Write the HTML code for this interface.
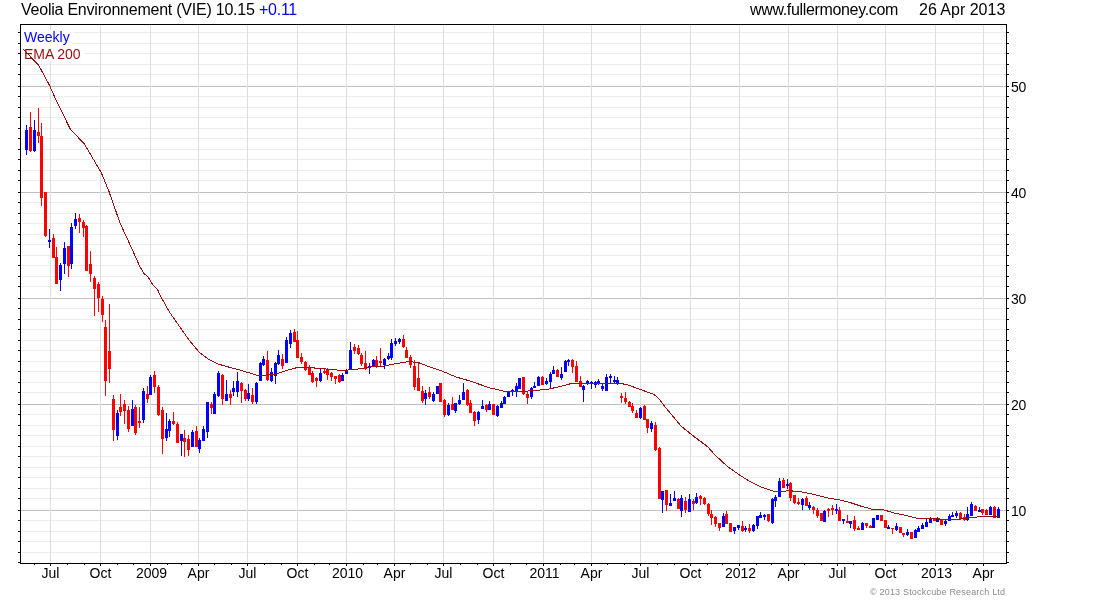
<!DOCTYPE html>
<html><head><meta charset="utf-8"><title>Veolia Environnement (VIE)</title><style>
html,body{margin:0;padding:0;background:#fff}
body{width:1100px;height:600px;position:relative;overflow:hidden;font-family:"Liberation Sans",sans-serif;color:#000}
.t{position:absolute;white-space:nowrap;line-height:1}
.ax{font-size:14px}
.xl{font-size:14px;transform:translateX(-50%)}
</style></head><body>
<svg width="1100" height="600" viewBox="0 0 1100 600" style="position:absolute;left:0;top:0">
<rect x="0" y="0" width="1100" height="600" fill="#fff"/>
<g shape-rendering="crispEdges"><rect x="21" y="552" width="985" height="1" fill="#ececec"/><rect x="21" y="541" width="985" height="1" fill="#ececec"/><rect x="21" y="531" width="985" height="1" fill="#ececec"/><rect x="21" y="520" width="985" height="1" fill="#ececec"/><rect x="21" y="510" width="985" height="1" fill="#c0c0c0"/><rect x="21" y="498" width="985" height="1" fill="#ececec"/><rect x="21" y="488" width="985" height="1" fill="#ececec"/><rect x="21" y="477" width="985" height="1" fill="#ececec"/><rect x="21" y="467" width="985" height="1" fill="#ececec"/><rect x="21" y="456" width="985" height="1" fill="#ececec"/><rect x="21" y="446" width="985" height="1" fill="#ececec"/><rect x="21" y="435" width="985" height="1" fill="#ececec"/><rect x="21" y="425" width="985" height="1" fill="#ececec"/><rect x="21" y="414" width="985" height="1" fill="#ececec"/><rect x="21" y="404" width="985" height="1" fill="#c0c0c0"/><rect x="21" y="392" width="985" height="1" fill="#ececec"/><rect x="21" y="382" width="985" height="1" fill="#ececec"/><rect x="21" y="371" width="985" height="1" fill="#ececec"/><rect x="21" y="361" width="985" height="1" fill="#ececec"/><rect x="21" y="350" width="985" height="1" fill="#ececec"/><rect x="21" y="340" width="985" height="1" fill="#ececec"/><rect x="21" y="329" width="985" height="1" fill="#ececec"/><rect x="21" y="319" width="985" height="1" fill="#ececec"/><rect x="21" y="308" width="985" height="1" fill="#ececec"/><rect x="21" y="298" width="985" height="1" fill="#c0c0c0"/><rect x="21" y="286" width="985" height="1" fill="#ececec"/><rect x="21" y="276" width="985" height="1" fill="#ececec"/><rect x="21" y="265" width="985" height="1" fill="#ececec"/><rect x="21" y="255" width="985" height="1" fill="#ececec"/><rect x="21" y="244" width="985" height="1" fill="#ececec"/><rect x="21" y="234" width="985" height="1" fill="#ececec"/><rect x="21" y="223" width="985" height="1" fill="#ececec"/><rect x="21" y="213" width="985" height="1" fill="#ececec"/><rect x="21" y="202" width="985" height="1" fill="#ececec"/><rect x="21" y="192" width="985" height="1" fill="#c0c0c0"/><rect x="21" y="180" width="985" height="1" fill="#ececec"/><rect x="21" y="170" width="985" height="1" fill="#ececec"/><rect x="21" y="159" width="985" height="1" fill="#ececec"/><rect x="21" y="149" width="985" height="1" fill="#ececec"/><rect x="21" y="138" width="985" height="1" fill="#ececec"/><rect x="21" y="128" width="985" height="1" fill="#ececec"/><rect x="21" y="117" width="985" height="1" fill="#ececec"/><rect x="21" y="107" width="985" height="1" fill="#ececec"/><rect x="21" y="96" width="985" height="1" fill="#ececec"/><rect x="21" y="86" width="985" height="1" fill="#c0c0c0"/><rect x="21" y="74" width="985" height="1" fill="#ececec"/><rect x="21" y="64" width="985" height="1" fill="#ececec"/><rect x="21" y="53" width="985" height="1" fill="#ececec"/><rect x="21" y="43" width="985" height="1" fill="#ececec"/><rect x="21" y="32" width="985" height="1" fill="#ececec"/></g>
<g shape-rendering="crispEdges"><rect x="34" y="564" width="1" height="1" fill="#000"/><rect x="50" y="25" width="1" height="538" fill="#dedede"/><rect x="50" y="564" width="1" height="2" fill="#000"/><rect x="67" y="564" width="1" height="1" fill="#000"/><rect x="84" y="564" width="1" height="1" fill="#000"/><rect x="100" y="25" width="1" height="538" fill="#dedede"/><rect x="100" y="564" width="1" height="2" fill="#000"/><rect x="117" y="564" width="1" height="1" fill="#000"/><rect x="133" y="564" width="1" height="1" fill="#000"/><rect x="150" y="25" width="1" height="538" fill="#dedede"/><rect x="150" y="564" width="1" height="2" fill="#000"/><rect x="167" y="564" width="1" height="1" fill="#000"/><rect x="181" y="564" width="1" height="1" fill="#000"/><rect x="198" y="25" width="1" height="538" fill="#dedede"/><rect x="198" y="564" width="1" height="2" fill="#000"/><rect x="214" y="564" width="1" height="1" fill="#000"/><rect x="231" y="564" width="1" height="1" fill="#000"/><rect x="247" y="25" width="1" height="538" fill="#dedede"/><rect x="247" y="564" width="1" height="2" fill="#000"/><rect x="264" y="564" width="1" height="1" fill="#000"/><rect x="281" y="564" width="1" height="1" fill="#000"/><rect x="297" y="25" width="1" height="538" fill="#dedede"/><rect x="297" y="564" width="1" height="2" fill="#000"/><rect x="314" y="564" width="1" height="1" fill="#000"/><rect x="329" y="564" width="1" height="1" fill="#000"/><rect x="346" y="25" width="1" height="538" fill="#dedede"/><rect x="346" y="564" width="1" height="2" fill="#000"/><rect x="363" y="564" width="1" height="1" fill="#000"/><rect x="377" y="564" width="1" height="1" fill="#000"/><rect x="394" y="25" width="1" height="538" fill="#dedede"/><rect x="394" y="564" width="1" height="2" fill="#000"/><rect x="410" y="564" width="1" height="1" fill="#000"/><rect x="427" y="564" width="1" height="1" fill="#000"/><rect x="443" y="25" width="1" height="538" fill="#dedede"/><rect x="443" y="564" width="1" height="2" fill="#000"/><rect x="460" y="564" width="1" height="1" fill="#000"/><rect x="477" y="564" width="1" height="1" fill="#000"/><rect x="493" y="25" width="1" height="538" fill="#dedede"/><rect x="493" y="564" width="1" height="2" fill="#000"/><rect x="510" y="564" width="1" height="1" fill="#000"/><rect x="526" y="564" width="1" height="1" fill="#000"/><rect x="543" y="25" width="1" height="538" fill="#dedede"/><rect x="543" y="564" width="1" height="2" fill="#000"/><rect x="560" y="564" width="1" height="1" fill="#000"/><rect x="574" y="564" width="1" height="1" fill="#000"/><rect x="591" y="25" width="1" height="538" fill="#dedede"/><rect x="591" y="564" width="1" height="2" fill="#000"/><rect x="607" y="564" width="1" height="1" fill="#000"/><rect x="624" y="564" width="1" height="1" fill="#000"/><rect x="640" y="25" width="1" height="538" fill="#dedede"/><rect x="640" y="564" width="1" height="2" fill="#000"/><rect x="657" y="564" width="1" height="1" fill="#000"/><rect x="674" y="564" width="1" height="1" fill="#000"/><rect x="690" y="25" width="1" height="538" fill="#dedede"/><rect x="690" y="564" width="1" height="2" fill="#000"/><rect x="707" y="564" width="1" height="1" fill="#000"/><rect x="722" y="564" width="1" height="1" fill="#000"/><rect x="739" y="25" width="1" height="538" fill="#dedede"/><rect x="739" y="564" width="1" height="2" fill="#000"/><rect x="756" y="564" width="1" height="1" fill="#000"/><rect x="771" y="564" width="1" height="1" fill="#000"/><rect x="788" y="25" width="1" height="538" fill="#dedede"/><rect x="788" y="564" width="1" height="2" fill="#000"/><rect x="804" y="564" width="1" height="1" fill="#000"/><rect x="821" y="564" width="1" height="1" fill="#000"/><rect x="837" y="25" width="1" height="538" fill="#dedede"/><rect x="837" y="564" width="1" height="2" fill="#000"/><rect x="853" y="564" width="1" height="1" fill="#000"/><rect x="869" y="564" width="1" height="1" fill="#000"/><rect x="885" y="25" width="1" height="538" fill="#dedede"/><rect x="885" y="564" width="1" height="2" fill="#000"/><rect x="902" y="564" width="1" height="1" fill="#000"/><rect x="918" y="564" width="1" height="1" fill="#000"/><rect x="935" y="25" width="1" height="538" fill="#dedede"/><rect x="935" y="564" width="1" height="2" fill="#000"/><rect x="952" y="564" width="1" height="1" fill="#000"/><rect x="966" y="564" width="1" height="1" fill="#000"/><rect x="983" y="25" width="1" height="538" fill="#dedede"/><rect x="983" y="564" width="1" height="2" fill="#000"/></g>
<g shape-rendering="crispEdges"><rect x="21" y="30" width="52" height="15" fill="#fff"/><rect x="21" y="46" width="63" height="15" fill="#fff"/></g>
<g shape-rendering="crispEdges"><rect x="26" y="125" width="1" height="30" fill="#0000ff"/><rect x="25" y="130" width="3" height="20" fill="#0000ff"/><rect x="30" y="112" width="1" height="40" fill="#ff0000"/><rect x="29" y="127" width="3" height="24" fill="#ff0000"/><rect x="34" y="120" width="1" height="32" fill="#0000ff"/><rect x="33" y="130" width="3" height="21" fill="#0000ff"/><rect x="38" y="108" width="1" height="35" fill="#ff0000"/><rect x="37" y="132" width="3" height="4" fill="#ff0000"/><rect x="41" y="123" width="1" height="83" fill="#ff0000"/><rect x="40" y="136" width="3" height="62" fill="#ff0000"/><rect x="45" y="192" width="1" height="45" fill="#ff0000"/><rect x="44" y="192" width="3" height="44" fill="#ff0000"/><rect x="49" y="229" width="1" height="19" fill="#0000ff"/><rect x="48" y="240" width="3" height="2" fill="#0000ff"/><rect x="53" y="234" width="1" height="24" fill="#ff0000"/><rect x="52" y="238" width="3" height="20" fill="#ff0000"/><rect x="56" y="247" width="1" height="37" fill="#ff0000"/><rect x="55" y="257" width="3" height="27" fill="#ff0000"/><rect x="60" y="263" width="1" height="28" fill="#0000ff"/><rect x="59" y="265" width="3" height="15" fill="#0000ff"/><rect x="64" y="242" width="1" height="32" fill="#0000ff"/><rect x="63" y="248" width="3" height="16" fill="#0000ff"/><rect x="68" y="246" width="1" height="31" fill="#ff0000"/><rect x="67" y="246" width="3" height="20" fill="#ff0000"/><rect x="71" y="223" width="1" height="46" fill="#0000ff"/><rect x="70" y="227" width="3" height="37" fill="#0000ff"/><rect x="75" y="213" width="1" height="16" fill="#0000ff"/><rect x="74" y="219" width="3" height="7" fill="#0000ff"/><rect x="79" y="214" width="1" height="19" fill="#ff0000"/><rect x="78" y="218" width="3" height="4" fill="#ff0000"/><rect x="83" y="220" width="1" height="17" fill="#ff0000"/><rect x="82" y="222" width="3" height="6" fill="#ff0000"/><rect x="86" y="225" width="1" height="46" fill="#ff0000"/><rect x="85" y="226" width="3" height="45" fill="#ff0000"/><rect x="90" y="251" width="1" height="31" fill="#ff0000"/><rect x="89" y="264" width="3" height="10" fill="#ff0000"/><rect x="94" y="276" width="1" height="40" fill="#ff0000"/><rect x="93" y="278" width="3" height="11" fill="#ff0000"/><rect x="98" y="282" width="1" height="30" fill="#ff0000"/><rect x="97" y="284" width="3" height="14" fill="#ff0000"/><rect x="102" y="296" width="1" height="26" fill="#ff0000"/><rect x="101" y="299" width="3" height="16" fill="#ff0000"/><rect x="105" y="320" width="1" height="76" fill="#ff0000"/><rect x="104" y="327" width="3" height="54" fill="#ff0000"/><rect x="109" y="304" width="1" height="79" fill="#ff0000"/><rect x="108" y="351" width="3" height="18" fill="#ff0000"/><rect x="113" y="395" width="1" height="46" fill="#ff0000"/><rect x="112" y="399" width="3" height="31" fill="#ff0000"/><rect x="117" y="410" width="1" height="30" fill="#0000ff"/><rect x="116" y="413" width="3" height="23" fill="#0000ff"/><rect x="120" y="394" width="1" height="22" fill="#ff0000"/><rect x="119" y="407" width="3" height="5" fill="#ff0000"/><rect x="124" y="400" width="1" height="24" fill="#ff0000"/><rect x="123" y="404" width="3" height="7" fill="#ff0000"/><rect x="128" y="406" width="1" height="26" fill="#ff0000"/><rect x="127" y="410" width="3" height="19" fill="#ff0000"/><rect x="132" y="400" width="1" height="26" fill="#0000ff"/><rect x="131" y="409" width="3" height="17" fill="#0000ff"/><rect x="135" y="405" width="1" height="30" fill="#ff0000"/><rect x="134" y="407" width="3" height="26" fill="#ff0000"/><rect x="139" y="407" width="1" height="21" fill="#ff0000"/><rect x="138" y="421" width="3" height="2" fill="#ff0000"/><rect x="143" y="388" width="1" height="35" fill="#0000ff"/><rect x="142" y="391" width="3" height="29" fill="#0000ff"/><rect x="147" y="386" width="1" height="17" fill="#ff0000"/><rect x="146" y="394" width="3" height="5" fill="#ff0000"/><rect x="150" y="375" width="1" height="20" fill="#0000ff"/><rect x="149" y="377" width="3" height="18" fill="#0000ff"/><rect x="154" y="371" width="1" height="22" fill="#ff0000"/><rect x="153" y="375" width="3" height="12" fill="#ff0000"/><rect x="158" y="385" width="1" height="31" fill="#ff0000"/><rect x="157" y="387" width="3" height="28" fill="#ff0000"/><rect x="162" y="407" width="1" height="47" fill="#ff0000"/><rect x="161" y="410" width="3" height="29" fill="#ff0000"/><rect x="166" y="413" width="1" height="28" fill="#0000ff"/><rect x="165" y="429" width="3" height="9" fill="#0000ff"/><rect x="169" y="419" width="1" height="18" fill="#0000ff"/><rect x="168" y="421" width="3" height="10" fill="#0000ff"/><rect x="173" y="412" width="1" height="13" fill="#ff0000"/><rect x="172" y="421" width="3" height="3" fill="#ff0000"/><rect x="177" y="422" width="1" height="21" fill="#ff0000"/><rect x="176" y="424" width="3" height="19" fill="#ff0000"/><rect x="181" y="434" width="1" height="22" fill="#0000ff"/><rect x="180" y="434" width="3" height="7" fill="#0000ff"/><rect x="184" y="430" width="1" height="27" fill="#ff0000"/><rect x="183" y="438" width="3" height="4" fill="#ff0000"/><rect x="188" y="435" width="1" height="21" fill="#ff0000"/><rect x="187" y="439" width="3" height="11" fill="#ff0000"/><rect x="192" y="430" width="1" height="17" fill="#0000ff"/><rect x="191" y="432" width="3" height="15" fill="#0000ff"/><rect x="196" y="426" width="1" height="21" fill="#ff0000"/><rect x="195" y="431" width="3" height="16" fill="#ff0000"/><rect x="199" y="438" width="1" height="15" fill="#0000ff"/><rect x="198" y="440" width="3" height="9" fill="#0000ff"/><rect x="203" y="426" width="1" height="15" fill="#0000ff"/><rect x="202" y="429" width="3" height="12" fill="#0000ff"/><rect x="207" y="402" width="1" height="36" fill="#0000ff"/><rect x="206" y="402" width="3" height="30" fill="#0000ff"/><rect x="211" y="402" width="1" height="12" fill="#ff0000"/><rect x="210" y="404" width="3" height="4" fill="#ff0000"/><rect x="214" y="392" width="1" height="22" fill="#0000ff"/><rect x="213" y="394" width="3" height="20" fill="#0000ff"/><rect x="218" y="371" width="1" height="26" fill="#0000ff"/><rect x="217" y="373" width="3" height="23" fill="#0000ff"/><rect x="222" y="374" width="1" height="31" fill="#ff0000"/><rect x="221" y="375" width="3" height="24" fill="#ff0000"/><rect x="226" y="380" width="1" height="21" fill="#0000ff"/><rect x="225" y="394" width="3" height="7" fill="#0000ff"/><rect x="230" y="390" width="1" height="15" fill="#ff0000"/><rect x="229" y="394" width="3" height="4" fill="#ff0000"/><rect x="233" y="381" width="1" height="15" fill="#0000ff"/><rect x="232" y="388" width="3" height="4" fill="#0000ff"/><rect x="237" y="372" width="1" height="25" fill="#0000ff"/><rect x="236" y="381" width="3" height="11" fill="#0000ff"/><rect x="241" y="382" width="1" height="21" fill="#ff0000"/><rect x="240" y="383" width="3" height="8" fill="#ff0000"/><rect x="245" y="389" width="1" height="12" fill="#ff0000"/><rect x="244" y="390" width="3" height="9" fill="#ff0000"/><rect x="248" y="384" width="1" height="17" fill="#0000ff"/><rect x="247" y="393" width="3" height="6" fill="#0000ff"/><rect x="252" y="388" width="1" height="16" fill="#ff0000"/><rect x="251" y="395" width="3" height="7" fill="#ff0000"/><rect x="256" y="382" width="1" height="22" fill="#0000ff"/><rect x="255" y="383" width="3" height="19" fill="#0000ff"/><rect x="260" y="362" width="1" height="19" fill="#0000ff"/><rect x="259" y="363" width="3" height="18" fill="#0000ff"/><rect x="263" y="356" width="1" height="10" fill="#0000ff"/><rect x="262" y="359" width="3" height="6" fill="#0000ff"/><rect x="267" y="351" width="1" height="30" fill="#ff0000"/><rect x="266" y="360" width="3" height="20" fill="#ff0000"/><rect x="271" y="368" width="1" height="14" fill="#0000ff"/><rect x="270" y="372" width="3" height="9" fill="#0000ff"/><rect x="275" y="362" width="1" height="22" fill="#0000ff"/><rect x="274" y="363" width="3" height="13" fill="#0000ff"/><rect x="278" y="350" width="1" height="15" fill="#0000ff"/><rect x="277" y="355" width="3" height="9" fill="#0000ff"/><rect x="282" y="354" width="1" height="15" fill="#ff0000"/><rect x="281" y="359" width="3" height="7" fill="#ff0000"/><rect x="286" y="337" width="1" height="26" fill="#0000ff"/><rect x="285" y="340" width="3" height="23" fill="#0000ff"/><rect x="290" y="330" width="1" height="18" fill="#0000ff"/><rect x="289" y="333" width="3" height="11" fill="#0000ff"/><rect x="294" y="329" width="1" height="13" fill="#ff0000"/><rect x="293" y="332" width="3" height="10" fill="#ff0000"/><rect x="297" y="331" width="1" height="27" fill="#ff0000"/><rect x="296" y="340" width="3" height="18" fill="#ff0000"/><rect x="301" y="353" width="1" height="11" fill="#ff0000"/><rect x="300" y="357" width="3" height="5" fill="#ff0000"/><rect x="305" y="361" width="1" height="10" fill="#ff0000"/><rect x="304" y="362" width="3" height="8" fill="#ff0000"/><rect x="309" y="365" width="1" height="10" fill="#ff0000"/><rect x="308" y="368" width="3" height="7" fill="#ff0000"/><rect x="312" y="371" width="1" height="12" fill="#ff0000"/><rect x="311" y="373" width="3" height="9" fill="#ff0000"/><rect x="316" y="377" width="1" height="10" fill="#ff0000"/><rect x="315" y="378" width="3" height="3" fill="#ff0000"/><rect x="320" y="369" width="1" height="13" fill="#0000ff"/><rect x="319" y="373" width="3" height="8" fill="#0000ff"/><rect x="324" y="368" width="1" height="6" fill="#ff0000"/><rect x="323" y="371" width="3" height="2" fill="#ff0000"/><rect x="327" y="368" width="1" height="12" fill="#ff0000"/><rect x="326" y="370" width="3" height="5" fill="#ff0000"/><rect x="331" y="372" width="1" height="9" fill="#ff0000"/><rect x="330" y="373" width="3" height="4" fill="#ff0000"/><rect x="335" y="376" width="1" height="8" fill="#ff0000"/><rect x="334" y="376" width="3" height="3" fill="#ff0000"/><rect x="339" y="374" width="1" height="9" fill="#ff0000"/><rect x="338" y="375" width="3" height="7" fill="#ff0000"/><rect x="342" y="373" width="1" height="8" fill="#0000ff"/><rect x="341" y="375" width="3" height="6" fill="#0000ff"/><rect x="346" y="369" width="1" height="5" fill="#0000ff"/><rect x="345" y="371" width="3" height="3" fill="#0000ff"/><rect x="350" y="342" width="1" height="28" fill="#0000ff"/><rect x="349" y="350" width="3" height="20" fill="#0000ff"/><rect x="354" y="344" width="1" height="10" fill="#ff0000"/><rect x="353" y="347" width="3" height="4" fill="#ff0000"/><rect x="358" y="345" width="1" height="10" fill="#ff0000"/><rect x="357" y="348" width="3" height="6" fill="#ff0000"/><rect x="361" y="353" width="1" height="13" fill="#ff0000"/><rect x="360" y="355" width="3" height="9" fill="#ff0000"/><rect x="365" y="351" width="1" height="19" fill="#ff0000"/><rect x="364" y="363" width="3" height="6" fill="#ff0000"/><rect x="369" y="363" width="1" height="11" fill="#0000ff"/><rect x="368" y="366" width="3" height="2" fill="#0000ff"/><rect x="373" y="359" width="1" height="8" fill="#0000ff"/><rect x="372" y="360" width="3" height="6" fill="#0000ff"/><rect x="376" y="356" width="1" height="12" fill="#ff0000"/><rect x="375" y="360" width="3" height="6" fill="#ff0000"/><rect x="380" y="348" width="1" height="19" fill="#ff0000"/><rect x="379" y="361" width="3" height="2" fill="#ff0000"/><rect x="384" y="358" width="1" height="11" fill="#0000ff"/><rect x="383" y="359" width="3" height="6" fill="#0000ff"/><rect x="388" y="353" width="1" height="7" fill="#0000ff"/><rect x="387" y="356" width="3" height="3" fill="#0000ff"/><rect x="391" y="339" width="1" height="21" fill="#0000ff"/><rect x="390" y="343" width="3" height="15" fill="#0000ff"/><rect x="395" y="338" width="1" height="8" fill="#0000ff"/><rect x="394" y="341" width="3" height="3" fill="#0000ff"/><rect x="399" y="338" width="1" height="6" fill="#0000ff"/><rect x="398" y="339" width="3" height="3" fill="#0000ff"/><rect x="403" y="335" width="1" height="13" fill="#ff0000"/><rect x="402" y="339" width="3" height="8" fill="#ff0000"/><rect x="406" y="347" width="1" height="11" fill="#ff0000"/><rect x="405" y="350" width="3" height="8" fill="#ff0000"/><rect x="410" y="355" width="1" height="13" fill="#ff0000"/><rect x="409" y="357" width="3" height="8" fill="#ff0000"/><rect x="414" y="360" width="1" height="30" fill="#ff0000"/><rect x="413" y="366" width="3" height="21" fill="#ff0000"/><rect x="418" y="362" width="1" height="29" fill="#ff0000"/><rect x="417" y="378" width="3" height="13" fill="#ff0000"/><rect x="422" y="386" width="1" height="17" fill="#ff0000"/><rect x="421" y="391" width="3" height="10" fill="#ff0000"/><rect x="425" y="390" width="1" height="15" fill="#0000ff"/><rect x="424" y="393" width="3" height="6" fill="#0000ff"/><rect x="429" y="387" width="1" height="12" fill="#ff0000"/><rect x="428" y="392" width="3" height="5" fill="#ff0000"/><rect x="433" y="392" width="1" height="10" fill="#0000ff"/><rect x="432" y="394" width="3" height="7" fill="#0000ff"/><rect x="437" y="386" width="1" height="8" fill="#0000ff"/><rect x="436" y="386" width="3" height="8" fill="#0000ff"/><rect x="440" y="383" width="1" height="19" fill="#ff0000"/><rect x="439" y="383" width="3" height="19" fill="#ff0000"/><rect x="444" y="399" width="1" height="18" fill="#ff0000"/><rect x="443" y="400" width="3" height="15" fill="#ff0000"/><rect x="448" y="403" width="1" height="13" fill="#0000ff"/><rect x="447" y="405" width="3" height="10" fill="#0000ff"/><rect x="452" y="397" width="1" height="13" fill="#ff0000"/><rect x="451" y="404" width="3" height="6" fill="#ff0000"/><rect x="455" y="403" width="1" height="10" fill="#0000ff"/><rect x="454" y="403" width="3" height="8" fill="#0000ff"/><rect x="459" y="395" width="1" height="10" fill="#0000ff"/><rect x="458" y="400" width="3" height="4" fill="#0000ff"/><rect x="463" y="383" width="1" height="17" fill="#0000ff"/><rect x="462" y="392" width="3" height="8" fill="#0000ff"/><rect x="467" y="389" width="1" height="17" fill="#ff0000"/><rect x="466" y="390" width="3" height="15" fill="#ff0000"/><rect x="470" y="400" width="1" height="13" fill="#ff0000"/><rect x="469" y="403" width="3" height="10" fill="#ff0000"/><rect x="474" y="411" width="1" height="15" fill="#ff0000"/><rect x="473" y="412" width="3" height="9" fill="#ff0000"/><rect x="478" y="411" width="1" height="13" fill="#0000ff"/><rect x="477" y="412" width="3" height="8" fill="#0000ff"/><rect x="482" y="400" width="1" height="9" fill="#0000ff"/><rect x="481" y="406" width="3" height="3" fill="#0000ff"/><rect x="486" y="404" width="1" height="8" fill="#ff0000"/><rect x="485" y="405" width="3" height="5" fill="#ff0000"/><rect x="489" y="401" width="1" height="9" fill="#0000ff"/><rect x="488" y="404" width="3" height="6" fill="#0000ff"/><rect x="493" y="404" width="1" height="11" fill="#ff0000"/><rect x="492" y="404" width="3" height="11" fill="#ff0000"/><rect x="497" y="405" width="1" height="12" fill="#0000ff"/><rect x="496" y="406" width="3" height="10" fill="#0000ff"/><rect x="501" y="401" width="1" height="7" fill="#0000ff"/><rect x="500" y="403" width="3" height="5" fill="#0000ff"/><rect x="504" y="396" width="1" height="8" fill="#0000ff"/><rect x="503" y="397" width="3" height="7" fill="#0000ff"/><rect x="508" y="391" width="1" height="6" fill="#0000ff"/><rect x="507" y="392" width="3" height="5" fill="#0000ff"/><rect x="512" y="389" width="1" height="7" fill="#0000ff"/><rect x="511" y="390" width="3" height="2" fill="#0000ff"/><rect x="516" y="383" width="1" height="14" fill="#0000ff"/><rect x="515" y="386" width="3" height="5" fill="#0000ff"/><rect x="519" y="378" width="1" height="11" fill="#0000ff"/><rect x="518" y="378" width="3" height="11" fill="#0000ff"/><rect x="523" y="377" width="1" height="18" fill="#ff0000"/><rect x="522" y="377" width="3" height="17" fill="#ff0000"/><rect x="527" y="391" width="1" height="13" fill="#ff0000"/><rect x="526" y="394" width="3" height="4" fill="#ff0000"/><rect x="531" y="387" width="1" height="12" fill="#0000ff"/><rect x="530" y="388" width="3" height="9" fill="#0000ff"/><rect x="534" y="382" width="1" height="6" fill="#0000ff"/><rect x="533" y="386" width="3" height="2" fill="#0000ff"/><rect x="538" y="376" width="1" height="10" fill="#0000ff"/><rect x="537" y="377" width="3" height="9" fill="#0000ff"/><rect x="542" y="376" width="1" height="9" fill="#ff0000"/><rect x="541" y="377" width="3" height="8" fill="#ff0000"/><rect x="546" y="378" width="1" height="7" fill="#0000ff"/><rect x="545" y="381" width="3" height="3" fill="#0000ff"/><rect x="550" y="372" width="1" height="16" fill="#0000ff"/><rect x="549" y="374" width="3" height="8" fill="#0000ff"/><rect x="553" y="366" width="1" height="8" fill="#0000ff"/><rect x="552" y="370" width="3" height="4" fill="#0000ff"/><rect x="557" y="369" width="1" height="8" fill="#ff0000"/><rect x="556" y="370" width="3" height="7" fill="#ff0000"/><rect x="561" y="367" width="1" height="13" fill="#0000ff"/><rect x="560" y="374" width="3" height="4" fill="#0000ff"/><rect x="565" y="360" width="1" height="12" fill="#0000ff"/><rect x="564" y="361" width="3" height="11" fill="#0000ff"/><rect x="568" y="359" width="1" height="7" fill="#0000ff"/><rect x="567" y="360" width="3" height="2" fill="#0000ff"/><rect x="572" y="359" width="1" height="14" fill="#ff0000"/><rect x="571" y="360" width="3" height="7" fill="#ff0000"/><rect x="576" y="361" width="1" height="21" fill="#ff0000"/><rect x="575" y="366" width="3" height="16" fill="#ff0000"/><rect x="580" y="376" width="1" height="11" fill="#ff0000"/><rect x="579" y="381" width="3" height="6" fill="#ff0000"/><rect x="583" y="385" width="1" height="17" fill="#0000ff"/><rect x="582" y="386" width="3" height="4" fill="#0000ff"/><rect x="587" y="380" width="1" height="5" fill="#0000ff"/><rect x="586" y="381" width="3" height="3" fill="#0000ff"/><rect x="591" y="381" width="1" height="8" fill="#0000ff"/><rect x="590" y="382" width="3" height="2" fill="#0000ff"/><rect x="595" y="381" width="1" height="7" fill="#0000ff"/><rect x="594" y="382" width="3" height="3" fill="#0000ff"/><rect x="598" y="379" width="1" height="6" fill="#0000ff"/><rect x="597" y="381" width="3" height="3" fill="#0000ff"/><rect x="602" y="384" width="1" height="7" fill="#0000ff"/><rect x="601" y="386" width="3" height="3" fill="#0000ff"/><rect x="606" y="374" width="1" height="17" fill="#0000ff"/><rect x="605" y="377" width="3" height="14" fill="#0000ff"/><rect x="610" y="374" width="1" height="9" fill="#0000ff"/><rect x="609" y="376" width="3" height="2" fill="#0000ff"/><rect x="614" y="376" width="1" height="7" fill="#0000ff"/><rect x="613" y="380" width="3" height="2" fill="#0000ff"/><rect x="617" y="377" width="1" height="8" fill="#0000ff"/><rect x="616" y="380" width="3" height="3" fill="#0000ff"/><rect x="621" y="393" width="1" height="10" fill="#ff0000"/><rect x="620" y="396" width="3" height="2" fill="#ff0000"/><rect x="625" y="392" width="1" height="12" fill="#ff0000"/><rect x="624" y="398" width="3" height="4" fill="#ff0000"/><rect x="629" y="401" width="1" height="6" fill="#ff0000"/><rect x="628" y="402" width="3" height="5" fill="#ff0000"/><rect x="632" y="403" width="1" height="10" fill="#ff0000"/><rect x="631" y="406" width="3" height="5" fill="#ff0000"/><rect x="636" y="410" width="1" height="8" fill="#ff0000"/><rect x="635" y="413" width="3" height="5" fill="#ff0000"/><rect x="640" y="407" width="1" height="12" fill="#0000ff"/><rect x="639" y="408" width="3" height="10" fill="#0000ff"/><rect x="644" y="405" width="1" height="15" fill="#ff0000"/><rect x="643" y="406" width="3" height="14" fill="#ff0000"/><rect x="647" y="419" width="1" height="14" fill="#ff0000"/><rect x="646" y="419" width="3" height="9" fill="#ff0000"/><rect x="651" y="421" width="1" height="11" fill="#0000ff"/><rect x="650" y="423" width="3" height="6" fill="#0000ff"/><rect x="655" y="422" width="1" height="29" fill="#ff0000"/><rect x="654" y="425" width="3" height="25" fill="#ff0000"/><rect x="659" y="447" width="1" height="52" fill="#ff0000"/><rect x="658" y="448" width="3" height="51" fill="#ff0000"/><rect x="662" y="491" width="1" height="22" fill="#0000ff"/><rect x="661" y="491" width="3" height="9" fill="#0000ff"/><rect x="666" y="490" width="1" height="21" fill="#ff0000"/><rect x="665" y="490" width="3" height="15" fill="#ff0000"/><rect x="670" y="494" width="1" height="12" fill="#0000ff"/><rect x="669" y="503" width="3" height="3" fill="#0000ff"/><rect x="674" y="491" width="1" height="10" fill="#0000ff"/><rect x="673" y="498" width="3" height="3" fill="#0000ff"/><rect x="678" y="498" width="1" height="11" fill="#ff0000"/><rect x="677" y="499" width="3" height="10" fill="#ff0000"/><rect x="681" y="495" width="1" height="22" fill="#0000ff"/><rect x="680" y="498" width="3" height="13" fill="#0000ff"/><rect x="685" y="497" width="1" height="16" fill="#ff0000"/><rect x="684" y="501" width="3" height="9" fill="#ff0000"/><rect x="689" y="494" width="1" height="18" fill="#0000ff"/><rect x="688" y="499" width="3" height="13" fill="#0000ff"/><rect x="693" y="499" width="1" height="11" fill="#ff0000"/><rect x="692" y="501" width="3" height="3" fill="#ff0000"/><rect x="696" y="493" width="1" height="11" fill="#0000ff"/><rect x="695" y="497" width="3" height="6" fill="#0000ff"/><rect x="700" y="495" width="1" height="10" fill="#ff0000"/><rect x="699" y="496" width="3" height="3" fill="#ff0000"/><rect x="704" y="497" width="1" height="8" fill="#ff0000"/><rect x="703" y="498" width="3" height="6" fill="#ff0000"/><rect x="708" y="503" width="1" height="13" fill="#ff0000"/><rect x="707" y="504" width="3" height="10" fill="#ff0000"/><rect x="711" y="510" width="1" height="15" fill="#ff0000"/><rect x="710" y="514" width="3" height="4" fill="#ff0000"/><rect x="715" y="516" width="1" height="11" fill="#ff0000"/><rect x="714" y="517" width="3" height="7" fill="#ff0000"/><rect x="719" y="523" width="1" height="8" fill="#ff0000"/><rect x="718" y="523" width="3" height="5" fill="#ff0000"/><rect x="723" y="513" width="1" height="14" fill="#0000ff"/><rect x="722" y="516" width="3" height="11" fill="#0000ff"/><rect x="726" y="511" width="1" height="13" fill="#ff0000"/><rect x="725" y="514" width="3" height="10" fill="#ff0000"/><rect x="730" y="523" width="1" height="9" fill="#ff0000"/><rect x="729" y="523" width="3" height="9" fill="#ff0000"/><rect x="734" y="527" width="1" height="7" fill="#0000ff"/><rect x="733" y="527" width="3" height="4" fill="#0000ff"/><rect x="738" y="525" width="1" height="5" fill="#0000ff"/><rect x="737" y="525" width="3" height="3" fill="#0000ff"/><rect x="742" y="521" width="1" height="11" fill="#ff0000"/><rect x="741" y="526" width="3" height="5" fill="#ff0000"/><rect x="745" y="526" width="1" height="6" fill="#0000ff"/><rect x="744" y="528" width="3" height="2" fill="#0000ff"/><rect x="749" y="524" width="1" height="9" fill="#ff0000"/><rect x="748" y="528" width="3" height="3" fill="#ff0000"/><rect x="753" y="524" width="1" height="8" fill="#0000ff"/><rect x="752" y="525" width="3" height="6" fill="#0000ff"/><rect x="757" y="516" width="1" height="13" fill="#0000ff"/><rect x="756" y="516" width="3" height="10" fill="#0000ff"/><rect x="760" y="512" width="1" height="6" fill="#0000ff"/><rect x="759" y="515" width="3" height="3" fill="#0000ff"/><rect x="764" y="514" width="1" height="6" fill="#0000ff"/><rect x="763" y="515" width="3" height="2" fill="#0000ff"/><rect x="768" y="514" width="1" height="8" fill="#ff0000"/><rect x="767" y="514" width="3" height="7" fill="#ff0000"/><rect x="772" y="498" width="1" height="26" fill="#0000ff"/><rect x="771" y="499" width="3" height="24" fill="#0000ff"/><rect x="775" y="495" width="1" height="12" fill="#0000ff"/><rect x="774" y="497" width="3" height="4" fill="#0000ff"/><rect x="779" y="478" width="1" height="19" fill="#0000ff"/><rect x="778" y="481" width="3" height="16" fill="#0000ff"/><rect x="783" y="478" width="1" height="10" fill="#ff0000"/><rect x="782" y="480" width="3" height="8" fill="#ff0000"/><rect x="787" y="479" width="1" height="10" fill="#0000ff"/><rect x="786" y="484" width="3" height="2" fill="#0000ff"/><rect x="790" y="482" width="1" height="19" fill="#ff0000"/><rect x="789" y="483" width="3" height="15" fill="#ff0000"/><rect x="794" y="495" width="1" height="9" fill="#ff0000"/><rect x="793" y="495" width="3" height="8" fill="#ff0000"/><rect x="798" y="498" width="1" height="7" fill="#ff0000"/><rect x="797" y="502" width="3" height="2" fill="#ff0000"/><rect x="802" y="498" width="1" height="12" fill="#0000ff"/><rect x="801" y="499" width="3" height="6" fill="#0000ff"/><rect x="806" y="496" width="1" height="10" fill="#ff0000"/><rect x="805" y="498" width="3" height="8" fill="#ff0000"/><rect x="809" y="502" width="1" height="8" fill="#0000ff"/><rect x="808" y="505" width="3" height="3" fill="#0000ff"/><rect x="813" y="506" width="1" height="8" fill="#ff0000"/><rect x="812" y="507" width="3" height="3" fill="#ff0000"/><rect x="817" y="508" width="1" height="10" fill="#ff0000"/><rect x="816" y="510" width="3" height="6" fill="#ff0000"/><rect x="821" y="513" width="1" height="8" fill="#ff0000"/><rect x="820" y="513" width="3" height="8" fill="#ff0000"/><rect x="824" y="510" width="1" height="12" fill="#0000ff"/><rect x="823" y="511" width="3" height="11" fill="#0000ff"/><rect x="828" y="508" width="1" height="9" fill="#ff0000"/><rect x="827" y="509" width="3" height="2" fill="#ff0000"/><rect x="832" y="505" width="1" height="10" fill="#ff0000"/><rect x="831" y="508" width="3" height="2" fill="#ff0000"/><rect x="836" y="504" width="1" height="10" fill="#0000ff"/><rect x="835" y="509" width="3" height="2" fill="#0000ff"/><rect x="839" y="507" width="1" height="14" fill="#ff0000"/><rect x="838" y="510" width="3" height="11" fill="#ff0000"/><rect x="843" y="519" width="1" height="5" fill="#0000ff"/><rect x="842" y="519" width="3" height="2" fill="#0000ff"/><rect x="847" y="515" width="1" height="8" fill="#ff0000"/><rect x="846" y="521" width="3" height="2" fill="#ff0000"/><rect x="850" y="521" width="1" height="7" fill="#0000ff"/><rect x="849" y="521" width="3" height="3" fill="#0000ff"/><rect x="854" y="516" width="1" height="15" fill="#ff0000"/><rect x="853" y="520" width="3" height="9" fill="#ff0000"/><rect x="858" y="526" width="1" height="4" fill="#ff0000"/><rect x="857" y="528" width="3" height="2" fill="#ff0000"/><rect x="862" y="522" width="1" height="8" fill="#0000ff"/><rect x="861" y="523" width="3" height="7" fill="#0000ff"/><rect x="866" y="523" width="1" height="5" fill="#ff0000"/><rect x="865" y="523" width="3" height="3" fill="#ff0000"/><rect x="870" y="525" width="1" height="3" fill="#ff0000"/><rect x="869" y="526" width="3" height="2" fill="#ff0000"/><rect x="873" y="518" width="1" height="10" fill="#0000ff"/><rect x="872" y="518" width="3" height="10" fill="#0000ff"/><rect x="877" y="515" width="1" height="5" fill="#0000ff"/><rect x="876" y="515" width="3" height="5" fill="#0000ff"/><rect x="881" y="515" width="1" height="6" fill="#ff0000"/><rect x="880" y="515" width="3" height="6" fill="#ff0000"/><rect x="885" y="520" width="1" height="8" fill="#ff0000"/><rect x="884" y="520" width="3" height="8" fill="#ff0000"/><rect x="888" y="525" width="1" height="4" fill="#0000ff"/><rect x="887" y="527" width="3" height="2" fill="#0000ff"/><rect x="892" y="528" width="1" height="6" fill="#ff0000"/><rect x="891" y="528" width="3" height="1" fill="#ff0000"/><rect x="896" y="523" width="1" height="8" fill="#0000ff"/><rect x="895" y="526" width="3" height="4" fill="#0000ff"/><rect x="900" y="527" width="1" height="6" fill="#ff0000"/><rect x="899" y="527" width="3" height="6" fill="#ff0000"/><rect x="903" y="533" width="1" height="4" fill="#ff0000"/><rect x="902" y="533" width="3" height="2" fill="#ff0000"/><rect x="907" y="529" width="1" height="7" fill="#0000ff"/><rect x="906" y="532" width="3" height="3" fill="#0000ff"/><rect x="911" y="532" width="1" height="7" fill="#ff0000"/><rect x="910" y="532" width="3" height="7" fill="#ff0000"/><rect x="915" y="529" width="1" height="9" fill="#0000ff"/><rect x="914" y="530" width="3" height="8" fill="#0000ff"/><rect x="918" y="526" width="1" height="6" fill="#0000ff"/><rect x="917" y="528" width="3" height="4" fill="#0000ff"/><rect x="922" y="523" width="1" height="6" fill="#0000ff"/><rect x="921" y="525" width="3" height="4" fill="#0000ff"/><rect x="926" y="519" width="1" height="8" fill="#0000ff"/><rect x="925" y="522" width="3" height="5" fill="#0000ff"/><rect x="930" y="517" width="1" height="6" fill="#0000ff"/><rect x="929" y="519" width="3" height="4" fill="#0000ff"/><rect x="934" y="518" width="1" height="3" fill="#ff0000"/><rect x="933" y="518" width="3" height="3" fill="#ff0000"/><rect x="937" y="517" width="1" height="5" fill="#0000ff"/><rect x="936" y="519" width="3" height="3" fill="#0000ff"/><rect x="941" y="519" width="1" height="6" fill="#ff0000"/><rect x="940" y="519" width="3" height="6" fill="#ff0000"/><rect x="945" y="520" width="1" height="6" fill="#0000ff"/><rect x="944" y="521" width="3" height="3" fill="#0000ff"/><rect x="949" y="514" width="1" height="7" fill="#0000ff"/><rect x="948" y="516" width="3" height="5" fill="#0000ff"/><rect x="952" y="512" width="1" height="5" fill="#0000ff"/><rect x="951" y="515" width="3" height="2" fill="#0000ff"/><rect x="956" y="511" width="1" height="7" fill="#0000ff"/><rect x="955" y="513" width="3" height="3" fill="#0000ff"/><rect x="960" y="512" width="1" height="8" fill="#ff0000"/><rect x="959" y="513" width="3" height="6" fill="#ff0000"/><rect x="964" y="514" width="1" height="7" fill="#ff0000"/><rect x="963" y="517" width="3" height="3" fill="#ff0000"/><rect x="967" y="507" width="1" height="14" fill="#0000ff"/><rect x="966" y="514" width="3" height="6" fill="#0000ff"/><rect x="971" y="502" width="1" height="14" fill="#0000ff"/><rect x="970" y="504" width="3" height="12" fill="#0000ff"/><rect x="975" y="505" width="1" height="6" fill="#ff0000"/><rect x="974" y="506" width="3" height="5" fill="#ff0000"/><rect x="979" y="507" width="1" height="5" fill="#0000ff"/><rect x="978" y="510" width="3" height="2" fill="#0000ff"/><rect x="982" y="509" width="1" height="6" fill="#ff0000"/><rect x="981" y="509" width="3" height="4" fill="#ff0000"/><rect x="986" y="509" width="1" height="6" fill="#ff0000"/><rect x="985" y="510" width="3" height="5" fill="#ff0000"/><rect x="990" y="506" width="1" height="9" fill="#0000ff"/><rect x="989" y="507" width="3" height="8" fill="#0000ff"/><rect x="994" y="506" width="1" height="12" fill="#ff0000"/><rect x="993" y="507" width="3" height="11" fill="#ff0000"/><rect x="998" y="507" width="1" height="11" fill="#0000ff"/><rect x="997" y="509" width="3" height="9" fill="#0000ff"/></g>
<polyline points="23.5,49.5 38.7,65.3 50,86.3 56,100 70.5,129.5 84,143.5 93.5,159.5 101,172 109,191.5 120,223 132,249 140,267 144,273.5 148.2,277 151.6,283.2 157.7,290 162.5,299.6 169.3,311.8 189,340 199,352 208,359 218,364 232,368 240,370 256,375 266,375 276,374 288,370 297,367.6 310,367.6 330,369.4 342,370.4 354,369.6 370,367 384,366 394,364 408,361.6 418,362.4 430,367 442,371 456,377 470,381 490,388 500,390.2 504,391.4 512,391.4 526,391.2 540,390 549,389 560,386.6 571,383.6 580,383.4 600,383.4 620,383.2 628,385 640,389.4 654,394.4 660,400 666,408 681,426 692,435 708,447 714,454 728,467 740,475.3 750,481.5 760,486.5 768,489.5 775,491.5 785.5,491.5 786.5,490.5 792,490.5 793,491.3 800,491.6 810,493.6 828,498 840,500 850,502.5 860.5,506 872.5,509.3 883,509.7 895,513.2 907,515.7 917.5,518.3 938.5,518.3 940,519.5 958,519.2 974.5,517.2 985,516.5 998.5,516.5" fill="none" stroke="#9a0f0f" stroke-width="1" shape-rendering="crispEdges"/>
<g shape-rendering="crispEdges"><rect x="20" y="24" width="987" height="1" fill="#000"/><rect x="20" y="563" width="987" height="1" fill="#000"/><rect x="20" y="24" width="1" height="540" fill="#000"/><rect x="1006" y="24" width="1" height="540" fill="#000"/><rect x="18" y="562" width="2" height="1" fill="#000"/><rect x="1007" y="562" width="2" height="1" fill="#000"/><rect x="18" y="552" width="2" height="1" fill="#000"/><rect x="1007" y="552" width="2" height="1" fill="#000"/><rect x="18" y="541" width="2" height="1" fill="#000"/><rect x="1007" y="541" width="2" height="1" fill="#000"/><rect x="18" y="531" width="2" height="1" fill="#000"/><rect x="1007" y="531" width="2" height="1" fill="#000"/><rect x="18" y="520" width="2" height="1" fill="#000"/><rect x="1007" y="520" width="2" height="1" fill="#000"/><rect x="18" y="510" width="2" height="1" fill="#000"/><rect x="1007" y="510" width="2" height="1" fill="#000"/><rect x="18" y="498" width="2" height="1" fill="#000"/><rect x="1007" y="498" width="2" height="1" fill="#000"/><rect x="18" y="488" width="2" height="1" fill="#000"/><rect x="1007" y="488" width="2" height="1" fill="#000"/><rect x="18" y="477" width="2" height="1" fill="#000"/><rect x="1007" y="477" width="2" height="1" fill="#000"/><rect x="18" y="467" width="2" height="1" fill="#000"/><rect x="1007" y="467" width="2" height="1" fill="#000"/><rect x="18" y="456" width="2" height="1" fill="#000"/><rect x="1007" y="456" width="2" height="1" fill="#000"/><rect x="18" y="446" width="2" height="1" fill="#000"/><rect x="1007" y="446" width="2" height="1" fill="#000"/><rect x="18" y="435" width="2" height="1" fill="#000"/><rect x="1007" y="435" width="2" height="1" fill="#000"/><rect x="18" y="425" width="2" height="1" fill="#000"/><rect x="1007" y="425" width="2" height="1" fill="#000"/><rect x="18" y="414" width="2" height="1" fill="#000"/><rect x="1007" y="414" width="2" height="1" fill="#000"/><rect x="18" y="404" width="2" height="1" fill="#000"/><rect x="1007" y="404" width="2" height="1" fill="#000"/><rect x="18" y="392" width="2" height="1" fill="#000"/><rect x="1007" y="392" width="2" height="1" fill="#000"/><rect x="18" y="382" width="2" height="1" fill="#000"/><rect x="1007" y="382" width="2" height="1" fill="#000"/><rect x="18" y="371" width="2" height="1" fill="#000"/><rect x="1007" y="371" width="2" height="1" fill="#000"/><rect x="18" y="361" width="2" height="1" fill="#000"/><rect x="1007" y="361" width="2" height="1" fill="#000"/><rect x="18" y="350" width="2" height="1" fill="#000"/><rect x="1007" y="350" width="2" height="1" fill="#000"/><rect x="18" y="340" width="2" height="1" fill="#000"/><rect x="1007" y="340" width="2" height="1" fill="#000"/><rect x="18" y="329" width="2" height="1" fill="#000"/><rect x="1007" y="329" width="2" height="1" fill="#000"/><rect x="18" y="319" width="2" height="1" fill="#000"/><rect x="1007" y="319" width="2" height="1" fill="#000"/><rect x="18" y="308" width="2" height="1" fill="#000"/><rect x="1007" y="308" width="2" height="1" fill="#000"/><rect x="18" y="298" width="2" height="1" fill="#000"/><rect x="1007" y="298" width="2" height="1" fill="#000"/><rect x="18" y="286" width="2" height="1" fill="#000"/><rect x="1007" y="286" width="2" height="1" fill="#000"/><rect x="18" y="276" width="2" height="1" fill="#000"/><rect x="1007" y="276" width="2" height="1" fill="#000"/><rect x="18" y="265" width="2" height="1" fill="#000"/><rect x="1007" y="265" width="2" height="1" fill="#000"/><rect x="18" y="255" width="2" height="1" fill="#000"/><rect x="1007" y="255" width="2" height="1" fill="#000"/><rect x="18" y="244" width="2" height="1" fill="#000"/><rect x="1007" y="244" width="2" height="1" fill="#000"/><rect x="18" y="234" width="2" height="1" fill="#000"/><rect x="1007" y="234" width="2" height="1" fill="#000"/><rect x="18" y="223" width="2" height="1" fill="#000"/><rect x="1007" y="223" width="2" height="1" fill="#000"/><rect x="18" y="213" width="2" height="1" fill="#000"/><rect x="1007" y="213" width="2" height="1" fill="#000"/><rect x="18" y="202" width="2" height="1" fill="#000"/><rect x="1007" y="202" width="2" height="1" fill="#000"/><rect x="18" y="192" width="2" height="1" fill="#000"/><rect x="1007" y="192" width="2" height="1" fill="#000"/><rect x="18" y="180" width="2" height="1" fill="#000"/><rect x="1007" y="180" width="2" height="1" fill="#000"/><rect x="18" y="170" width="2" height="1" fill="#000"/><rect x="1007" y="170" width="2" height="1" fill="#000"/><rect x="18" y="159" width="2" height="1" fill="#000"/><rect x="1007" y="159" width="2" height="1" fill="#000"/><rect x="18" y="149" width="2" height="1" fill="#000"/><rect x="1007" y="149" width="2" height="1" fill="#000"/><rect x="18" y="138" width="2" height="1" fill="#000"/><rect x="1007" y="138" width="2" height="1" fill="#000"/><rect x="18" y="128" width="2" height="1" fill="#000"/><rect x="1007" y="128" width="2" height="1" fill="#000"/><rect x="18" y="117" width="2" height="1" fill="#000"/><rect x="1007" y="117" width="2" height="1" fill="#000"/><rect x="18" y="107" width="2" height="1" fill="#000"/><rect x="1007" y="107" width="2" height="1" fill="#000"/><rect x="18" y="96" width="2" height="1" fill="#000"/><rect x="1007" y="96" width="2" height="1" fill="#000"/><rect x="18" y="86" width="2" height="1" fill="#000"/><rect x="1007" y="86" width="2" height="1" fill="#000"/><rect x="18" y="74" width="2" height="1" fill="#000"/><rect x="1007" y="74" width="2" height="1" fill="#000"/><rect x="18" y="64" width="2" height="1" fill="#000"/><rect x="1007" y="64" width="2" height="1" fill="#000"/><rect x="18" y="53" width="2" height="1" fill="#000"/><rect x="1007" y="53" width="2" height="1" fill="#000"/><rect x="18" y="43" width="2" height="1" fill="#000"/><rect x="1007" y="43" width="2" height="1" fill="#000"/><rect x="18" y="32" width="2" height="1" fill="#000"/><rect x="1007" y="32" width="2" height="1" fill="#000"/></g>
</svg>
<div id="txt" style="position:absolute;left:0;top:0;width:1100px;height:600px;will-change:transform;transform:translateZ(0)">
<div class="t" style="left:21px;top:2px;font-size:16px;letter-spacing:-0.23px">Veolia Environnement (VIE) 10.15 <span style="color:#0000ff">+0.11</span></div>
<div class="t" style="left:750px;top:2px;font-size:16px;letter-spacing:-0.34px">www.fullermoney.com</div>
<div class="t" style="left:919px;top:2px;font-size:16px;letter-spacing:0px">26 Apr 2013</div>
<div class="t ax" style="left:24px;top:30px;color:#0000ff">Weekly</div>
<div class="t ax" style="left:24px;top:47px;color:#9a0f0f;letter-spacing:-0.05px">EMA 200</div>
<div class="t ax" style="left:1011px;top:80px;letter-spacing:-0.4px">50</div>
<div class="t ax" style="left:1011px;top:186px;letter-spacing:-0.4px">40</div>
<div class="t ax" style="left:1011px;top:292px;letter-spacing:-0.4px">30</div>
<div class="t ax" style="left:1011px;top:398px;letter-spacing:-0.4px">20</div>
<div class="t ax" style="left:1011px;top:504px;letter-spacing:-0.4px">10</div>
<div class="t xl" style="left:50.5px;top:566px">Jul</div>
<div class="t xl" style="left:100.5px;top:566px">Oct</div>
<div class="t xl" style="left:151.5px;top:566px">2009</div>
<div class="t xl" style="left:198.5px;top:566px">Apr</div>
<div class="t xl" style="left:247.5px;top:566px">Jul</div>
<div class="t xl" style="left:297.5px;top:566px">Oct</div>
<div class="t xl" style="left:347.5px;top:566px">2010</div>
<div class="t xl" style="left:394.5px;top:566px">Apr</div>
<div class="t xl" style="left:443.5px;top:566px">Jul</div>
<div class="t xl" style="left:493.5px;top:566px">Oct</div>
<div class="t xl" style="left:544.5px;top:566px">2011</div>
<div class="t xl" style="left:591.5px;top:566px">Apr</div>
<div class="t xl" style="left:640.5px;top:566px">Jul</div>
<div class="t xl" style="left:690.5px;top:566px">Oct</div>
<div class="t xl" style="left:740.5px;top:566px">2012</div>
<div class="t xl" style="left:788.5px;top:566px">Apr</div>
<div class="t xl" style="left:837.5px;top:566px">Jul</div>
<div class="t xl" style="left:885.5px;top:566px">Oct</div>
<div class="t xl" style="left:936.5px;top:566px">2013</div>
<div class="t xl" style="left:983.5px;top:566px">Apr</div>
<div class="t" style="left:870px;top:588px;font-size:9px;color:#8a8a8a;letter-spacing:0.19px">© 2013 Stockcube Research Ltd</div>
</div>
</body></html>
